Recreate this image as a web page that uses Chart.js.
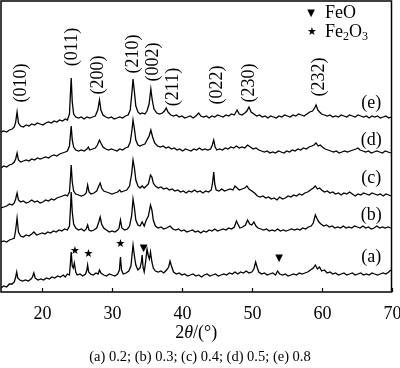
<!DOCTYPE html>
<html>
<head>
<meta charset="utf-8">
<script src="https://cdn.jsdelivr.net/npm/chart.js@4.4.1/dist/chart.umd.min.js"></script>
<style>
  body { margin: 0; background: #fff; }
  canvas { display: block; }
</style>
</head>
<body>
<canvas id="xrdChart" width="400" height="368"></canvas>
<script>
// 2theta (deg) and stacked intensity (a.u., offset per sample)
const traceA = [[14.1,4],[14.5,6],[14.9,5],[15.3,8],[15.7,8],[16.0,10],[16.2,15],[16.35,20],[16.5,14],[16.8,12],[17.2,11],[17.6,12],[18.0,11],[18.4,13],[18.6,15],[18.8,19],[19.0,14],[19.4,12],[19.8,13],[20.2,12],[20.6,14],[21.0,13],[21.4,15],[21.8,14],[22.2,16],[22.6,15],[23.0,17],[23.3,15],[23.6,18],[23.9,17],[24.05,30],[24.15,40],[24.3,26],[24.45,24],[24.6,29],[24.8,20],[25.0,17],[25.4,18],[25.8,16],[26.2,18],[26.4,22],[26.5,27],[26.65,20],[26.9,18],[27.3,17],[27.7,19],[28.0,18],[28.2,22],[28.4,19],[28.8,17],[29.2,16],[29.6,18],[30.0,17],[30.4,16],[30.8,18],[31.05,22],[31.2,35],[31.35,22],[31.6,18],[32.0,19],[32.4,21],[32.7,26],[32.9,40],[33.0,47],[33.2,36],[33.4,27],[33.7,22],[34.0,24],[34.2,30],[34.3,37],[34.45,24],[34.6,20],[34.8,30],[35.0,43],[35.2,36],[35.35,33],[35.5,40],[35.7,30],[35.9,24],[36.2,21],[36.6,20],[37.0,21],[37.4,19],[37.8,22],[38.1,25],[38.3,31],[38.5,26],[38.8,20],[39.2,18],[39.6,19],[40.0,17],[40.4,18],[40.8,16],[41.2,17],[41.6,18],[42.0,16],[42.4,17],[42.8,15],[43.2,17],[43.6,18],[44.0,16],[44.4,17],[44.8,18],[45.2,16],[45.6,17],[46.0,18],[46.4,17],[46.8,19],[47.2,18],[47.6,20],[48.0,18],[48.4,20],[48.8,19],[49.2,21],[49.6,19],[50.0,20],[50.3,23],[50.55,30],[50.8,24],[51.0,20],[51.4,18],[51.8,19],[52.2,17],[52.6,18],[53.0,19],[53.4,17],[53.7,21],[54.0,18],[54.4,17],[54.8,18],[55.2,16],[55.6,17],[56.0,18],[56.4,17],[56.8,19],[57.2,18],[57.6,19],[58.0,20],[58.4,22],[58.8,24],[59.1,27],[59.4,23],[59.7,25],[60.0,21],[60.4,22],[60.8,19],[61.2,20],[61.6,18],[62.0,19],[62.4,17],[62.8,18],[63.2,19],[63.6,17],[64.0,18],[64.4,19],[64.8,17],[65.2,18],[65.6,19],[66.0,17],[66.4,18],[66.8,17],[67.2,19],[67.6,18],[68.0,17],[68.4,18],[68.8,19],[69.2,18],[69.6,20],[69.9,22]];
const traceB = [[14.1,50],[14.5,51],[14.9,50],[15.3,52],[15.7,53],[16.0,54],[16.2,62],[16.4,74],[16.6,60],[16.9,56],[17.3,55],[17.7,57],[18.1,56],[18.5,58],[18.8,60],[19.2,57],[19.6,58],[20.0,59],[20.4,58],[20.8,60],[21.2,59],[21.6,61],[22.0,60],[22.4,62],[22.8,61],[23.2,63],[23.6,62],[23.9,66],[24.05,84],[24.15,100],[24.3,80],[24.5,68],[24.8,64],[25.2,62],[25.6,63],[26.0,61],[26.3,63],[26.5,67],[26.7,62],[27.0,61],[27.4,62],[27.8,64],[28.1,70],[28.3,75],[28.5,68],[28.8,64],[29.2,62],[29.6,60],[30.0,61],[30.4,60],[30.8,62],[31.0,64],[31.2,72],[31.4,64],[31.8,62],[32.2,63],[32.5,66],[32.8,76],[33.0,93],[33.2,84],[33.4,72],[33.7,67],[34.0,66],[34.3,70],[34.6,66],[34.9,72],[35.2,76],[35.5,87],[35.7,82],[35.9,72],[36.2,66],[36.6,64],[37.0,65],[37.4,63],[37.8,64],[38.3,66],[38.7,63],[39.1,62],[39.5,63],[39.9,61],[40.3,62],[40.7,60],[41.1,61],[41.5,62],[41.9,60],[42.3,61],[42.7,59],[43.1,61],[43.5,60],[43.9,62],[44.3,61],[44.7,63],[45.1,61],[45.5,62],[45.9,63],[46.3,62],[46.7,64],[47.1,63],[47.5,65],[47.8,71],[48.0,68],[48.3,64],[48.7,65],[49.1,67],[49.4,72],[49.7,68],[50.0,67],[50.3,70],[50.6,66],[50.9,64],[51.3,63],[51.7,62],[52.1,63],[52.5,61],[52.9,62],[53.3,61],[53.7,63],[54.1,61],[54.5,62],[54.9,61],[55.3,62],[55.7,63],[56.1,62],[56.5,63],[56.9,62],[57.3,64],[57.7,63],[58.1,65],[58.5,66],[58.8,69],[59.1,77],[59.3,74],[59.6,70],[59.9,68],[60.3,66],[60.7,67],[61.1,65],[61.5,66],[61.9,64],[62.3,65],[62.7,64],[63.1,66],[63.5,64],[63.9,65],[64.3,64],[64.7,66],[65.1,65],[65.5,64],[65.9,66],[66.3,64],[66.7,65],[67.1,63],[67.5,64],[67.9,66],[68.3,64],[68.7,65],[69.1,64],[69.5,65],[69.9,64]];
const traceC = [[14.1,84],[14.5,85],[14.9,86],[15.3,88],[15.7,87],[16.0,89],[16.2,93],[16.4,99],[16.6,92],[16.9,90],[17.3,91],[17.7,89],[18.1,90],[18.5,92],[18.9,90],[19.3,91],[19.7,89],[20.1,90],[20.5,92],[20.9,91],[21.3,93],[21.7,92],[22.1,94],[22.5,95],[22.9,96],[23.3,97],[23.6,96],[23.9,100],[24.05,115],[24.15,127],[24.3,110],[24.5,101],[24.8,98],[25.2,97],[25.6,96],[26.0,97],[26.3,99],[26.5,107],[26.7,100],[27.0,98],[27.4,99],[27.8,101],[28.1,106],[28.3,109],[28.5,104],[28.8,101],[29.2,100],[29.6,99],[30.0,98],[30.4,99],[30.8,100],[31.1,102],[31.3,100],[31.7,101],[32.1,102],[32.5,106],[32.8,118],[33.0,132],[33.2,124],[33.4,112],[33.7,106],[34.0,104],[34.3,106],[34.6,104],[34.9,106],[35.2,108],[35.5,117],[35.7,115],[35.9,109],[36.2,106],[36.6,104],[37.0,105],[37.4,103],[37.8,104],[38.2,102],[38.6,103],[39.0,101],[39.4,102],[39.8,100],[40.2,101],[40.6,99],[41.0,101],[41.4,100],[41.8,102],[42.2,100],[42.6,101],[43.0,99],[43.4,101],[43.8,100],[44.2,102],[44.4,110],[44.55,120],[44.7,108],[44.9,102],[45.3,101],[45.7,103],[46.1,101],[46.5,102],[46.9,103],[47.3,102],[47.6,106],[47.9,104],[48.2,102],[48.6,103],[49.0,104],[49.3,106],[49.6,103],[50.0,101],[50.4,99],[50.8,96],[51.2,95],[51.6,96],[52.0,94],[52.4,95],[52.8,93],[53.2,94],[53.6,92],[54.0,95],[54.4,93],[54.8,94],[55.2,96],[55.6,95],[56.0,97],[56.4,96],[56.8,98],[57.2,97],[57.6,99],[58.0,100],[58.4,102],[58.8,104],[59.1,106],[59.4,103],[59.7,104],[60.0,102],[60.4,100],[60.8,101],[61.2,99],[61.6,100],[62.0,98],[62.4,99],[62.8,97],[63.2,99],[63.6,98],[64.0,100],[64.4,98],[64.8,96],[65.2,98],[65.6,97],[66.0,99],[66.4,98],[66.8,97],[67.2,99],[67.6,98],[68.0,97],[68.4,98],[68.8,96],[69.2,98],[69.6,97],[69.9,96]];
const traceD = [[14.1,124],[14.5,126],[14.9,125],[15.3,127],[15.7,128],[16.0,130],[16.2,133],[16.4,139],[16.6,132],[16.9,130],[17.3,131],[17.7,132],[18.1,131],[18.5,133],[18.9,132],[19.3,134],[19.7,133],[20.1,134],[20.5,135],[20.9,134],[21.3,136],[21.7,137],[22.1,136],[22.5,138],[22.9,139],[23.3,140],[23.6,141],[23.9,146],[24.05,158],[24.15,166],[24.3,152],[24.5,145],[24.8,142],[25.2,141],[25.6,142],[26.0,141],[26.4,143],[26.6,145],[26.8,142],[27.2,143],[27.6,144],[27.9,147],[28.2,152],[28.4,149],[28.7,145],[29.1,143],[29.5,142],[29.9,143],[30.3,142],[30.7,141],[31.1,143],[31.5,142],[31.9,144],[32.3,145],[32.6,150],[32.85,162],[33.0,172],[33.2,163],[33.4,152],[33.7,147],[34.0,146],[34.3,147],[34.7,148],[35.0,152],[35.3,156],[35.55,162],[35.8,155],[36.1,149],[36.5,146],[36.9,145],[37.3,146],[37.7,144],[38.1,145],[38.5,143],[38.9,144],[39.3,142],[39.7,143],[40.1,141],[40.5,143],[40.9,142],[41.3,141],[41.7,143],[42.1,142],[42.5,144],[42.9,142],[43.3,143],[43.7,142],[44.1,143],[44.35,147],[44.55,152],[44.75,145],[45.0,142],[45.4,143],[45.8,142],[46.2,144],[46.6,143],[47.0,145],[47.4,144],[47.8,146],[48.2,144],[48.6,145],[49.0,144],[49.4,147],[49.8,145],[50.2,143],[50.6,144],[51.0,142],[51.4,141],[51.8,140],[52.2,141],[52.6,139],[53.0,140],[53.4,139],[53.8,141],[54.2,140],[54.6,139],[55.0,141],[55.4,140],[55.8,142],[56.2,141],[56.6,143],[57.0,142],[57.4,144],[57.8,143],[58.2,145],[58.6,146],[58.9,147],[59.2,149],[59.5,146],[59.8,147],[60.1,145],[60.5,143],[60.9,142],[61.3,141],[61.7,140],[62.1,141],[62.5,139],[62.9,140],[63.3,141],[63.7,140],[64.1,141],[64.5,142],[64.9,143],[65.2,144],[65.5,142],[65.9,141],[66.3,140],[66.7,141],[67.1,139],[67.5,140],[67.9,141],[68.3,140],[68.7,139],[69.1,141],[69.5,140],[69.9,139]];
const traceE = [[14.1,160],[14.5,161],[14.9,160],[15.3,162],[15.7,163],[16.0,165],[16.2,170],[16.4,180],[16.6,169],[16.9,166],[17.3,165],[17.7,167],[18.1,166],[18.5,168],[18.9,167],[19.3,169],[19.7,168],[20.1,167],[20.5,169],[20.9,170],[21.3,169],[21.7,171],[22.1,170],[22.5,172],[22.9,171],[23.3,173],[23.6,172],[23.9,178],[24.05,200],[24.15,214],[24.3,190],[24.5,178],[24.8,175],[25.2,174],[25.6,175],[26.0,173],[26.4,175],[26.8,174],[27.2,175],[27.6,176],[27.95,182],[28.2,192],[28.4,182],[28.7,177],[29.1,175],[29.5,174],[29.9,175],[30.3,173],[30.7,174],[31.1,175],[31.5,174],[31.9,176],[32.3,177],[32.6,182],[32.85,200],[33.0,213],[33.2,200],[33.4,186],[33.7,180],[34.0,178],[34.3,179],[34.7,178],[35.0,181],[35.3,188],[35.55,203],[35.75,192],[36.0,183],[36.4,179],[36.8,178],[37.2,179],[37.5,181],[37.75,184],[38.0,180],[38.4,177],[38.8,176],[39.2,177],[39.6,175],[40.0,176],[40.4,174],[40.8,175],[41.2,176],[41.6,174],[42.0,176],[42.4,179],[42.7,176],[43.1,175],[43.5,176],[43.9,174],[44.3,176],[44.7,175],[45.1,177],[45.5,176],[45.9,175],[46.3,177],[46.7,176],[47.1,178],[47.5,177],[47.9,182],[48.2,178],[48.6,177],[49.0,179],[49.3,181],[49.6,185],[49.9,180],[50.3,178],[50.7,176],[51.1,177],[51.5,175],[51.9,176],[52.3,174],[52.7,176],[53.1,175],[53.5,174],[53.9,176],[54.3,175],[54.7,177],[55.1,176],[55.5,175],[55.9,177],[56.3,176],[56.7,178],[57.1,177],[57.5,176],[57.9,178],[58.3,180],[58.7,181],[59.0,184],[59.2,187],[59.45,182],[59.7,180],[60.0,178],[60.4,177],[60.8,176],[61.2,177],[61.6,175],[62.0,176],[62.4,175],[62.8,177],[63.2,176],[63.6,175],[64.0,177],[64.4,176],[64.8,175],[65.2,177],[65.6,176],[66.0,175],[66.4,176],[66.8,174],[67.2,176],[67.6,175],[68.0,176],[68.4,174],[68.8,175],[69.2,176],[69.6,174],[69.9,175]];

const xTicks = [20, 30, 40, 50, 60, 70];

// peak index labels (rotated), placed in data coords
const hklText = ['(010)', '(011)', '(200)', '(210)', '(002)', '(211)', '(022)', '(230)', '(232)'];
const hklX = [17.0, 24.3, 28.0, 33.0, 35.9, 38.7, 45.1, 49.6, 59.7];
const hklY = [209, 245, 217, 238, 230, 205, 207, 209, 215];

// sample labels on the right
const sampleText = ['(a)', '(b)', '(c)', '(d)', '(e)'];
const sampleX = 67.1;
const sampleY = [35, 77, 114, 152, 189];

// phase markers over trace (a)
const starX = [24.7, 26.6, 31.2];
const starY = [41, 38, 48];
const triX = [34.5, 53.9];
const triY = [44, 34];

const caption = '(a) 0.2; (b) 0.3; (c) 0.4; (d) 0.5; (e) 0.8';
const SERIF = '"Liberation Serif", "Times New Roman", serif';

const decorations = {
    id: 'decorations',
    afterDraw(chart) {
        const { ctx, chartArea: area, scales: { x, y } } = chart;
        ctx.save();
        ctx.fillStyle = '#000';
        ctx.strokeStyle = '#000';

        // frame
        ctx.lineWidth = 1.5;
        ctx.strokeRect(area.left, area.top, area.right - area.left, area.bottom - area.top);

        // inward ticks and labels on bottom axis
        ctx.lineWidth = 1.2;
        ctx.font = '18px ' + SERIF;
        ctx.textAlign = 'center';
        ctx.textBaseline = 'alphabetic';
        xTicks.forEach(v => {
            const px = Math.round(x.getPixelForValue(v)) + 0.5;
            ctx.beginPath();
            ctx.moveTo(px, area.bottom);
            ctx.lineTo(px, area.bottom - 4);
            ctx.stroke();
            ctx.fillText(String(v), px, area.bottom + 27);
        });

        // rotated hkl labels
        ctx.font = '18px ' + SERIF;
        ctx.textBaseline = 'middle';
        hklText.forEach((t, i) => {
            ctx.save();
            ctx.translate(x.getPixelForValue(hklX[i]), y.getPixelForValue(hklY[i]));
            ctx.rotate(-Math.PI / 2);
            ctx.fillText(t, 0, 0);
            ctx.restore();
        });

        // sample labels
        ctx.font = '18px ' + SERIF;
        sampleText.forEach((t, i) => {
            ctx.fillText(t, x.getPixelForValue(sampleX), y.getPixelForValue(sampleY[i]));
        });

        // markers
        ctx.font = '11px "DejaVu Sans"';
        starX.forEach((v, i) => ctx.fillText('★', x.getPixelForValue(v), y.getPixelForValue(starY[i])));
        ctx.font = '10px "DejaVu Sans"';
        triX.forEach((v, i) => ctx.fillText('▼', x.getPixelForValue(v), y.getPixelForValue(triY[i])));

        // legend top right
        ctx.font = '10px "DejaVu Sans"';
        ctx.fillText('▼', 311, 13);
        ctx.font = '11px "DejaVu Sans"';
        ctx.fillText('★', 312, 32);
        ctx.textAlign = 'left';
        ctx.font = '18px ' + SERIF;
        ctx.fillText('FeO', 325, 13);
        let lx = 325;
        const parts = [['Fe', 0], ['2', 1], ['O', 0], ['3', 1]];
        parts.forEach(([t, sub]) => {
            ctx.font = (sub ? '12px ' : '18px ') + SERIF;
            ctx.fillText(t, lx, sub ? 37 : 32);
            lx += ctx.measureText(t).width;
        });

        // axis title 2θ/(°)
        ctx.textBaseline = 'alphabetic';
        const tParts = [['2', ''], ['θ', 'italic '], ['/(°)', '']];
        let total = 0;
        tParts.forEach(([t, st]) => { ctx.font = st + '18px ' + SERIF; total += ctx.measureText(t).width; });
        let tx = (area.left + area.right) / 2 - total / 2;
        tParts.forEach(([t, st]) => {
            ctx.font = st + '18px ' + SERIF;
            ctx.fillText(t, tx, 338);
            tx += ctx.measureText(t).width;
        });

        // caption
        ctx.textAlign = 'center';
        ctx.font = '14.5px ' + SERIF;
        ctx.fillText(caption, 200, 361);
        ctx.restore();
    }
};

const makeSet = (pts) => ({
    data: pts.map(p => ({ x: p[0], y: p[1] })),
    borderColor: '#000',
    borderWidth: 1.3,
    pointRadius: 0,
    tension: 0,
    fill: false
});

const chart = new Chart(document.getElementById('xrdChart'), {
    type: 'line',
    data: {
        datasets: [traceA, traceB, traceC, traceD, traceE].map(makeSet)
    },
    options: {
        responsive: false,
        animation: false,
        devicePixelRatio: 1,
        layout: { padding: { left: 1, right: 8.5, top: 1, bottom: 0 } },
        plugins: { legend: { display: false }, tooltip: { enabled: false } },
        scales: {
            x: {
                type: 'linear',
                min: 14.1,
                max: 70,
                grid: { display: false, drawTicks: false },
                border: { display: false },
                afterBuildTicks: (scale) => { scale.ticks = xTicks.map(v => ({ value: v })); },
                afterFit: (scale) => { scale.height = 76; },
                ticks: { display: false }
            },
            y: {
                display: false,
                min: 0,
                max: 291
            }
        }
    },
    plugins: [decorations]
});
</script>
</body>
</html>
